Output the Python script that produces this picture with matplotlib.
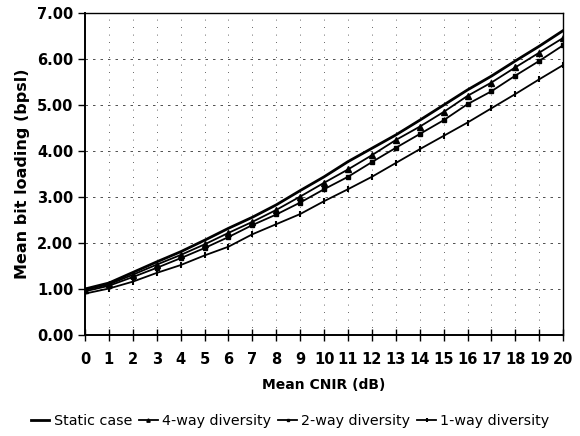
import matplotlib
matplotlib.use('Agg')
import matplotlib.pyplot as plt

cnir = list(range(0, 21))

static_case = [1.00, 1.13, 1.36, 1.59, 1.81, 2.06, 2.32, 2.56, 2.83, 3.14, 3.44,
               3.77, 4.06, 4.35, 4.67, 5.00, 5.33, 5.63, 5.96, 6.28, 6.62]
way4 = [0.98, 1.10, 1.31, 1.53, 1.74, 1.97, 2.22, 2.46, 2.72, 3.01, 3.31,
        3.60, 3.91, 4.24, 4.53, 4.85, 5.20, 5.49, 5.82, 6.14, 6.46]
way2 = [0.95, 1.07, 1.26, 1.46, 1.67, 1.89, 2.13, 2.39, 2.62, 2.88, 3.17,
        3.44, 3.76, 4.07, 4.37, 4.67, 5.02, 5.30, 5.64, 5.96, 6.30]
way1 = [0.90, 1.01, 1.16, 1.35, 1.52, 1.73, 1.92, 2.19, 2.41, 2.63, 2.91,
        3.17, 3.44, 3.74, 4.04, 4.33, 4.62, 4.93, 5.24, 5.56, 5.87]

fig = plt.figure(figsize=(5.8, 4.36), dpi=100)
ax = fig.add_axes([0.1466, 0.2317, 0.8244, 0.7383])

ax.plot(cnir, static_case, color='black', lw=2.0, label='Static case')
ax.plot(cnir, way4, color='black', lw=1.3, marker='^', ms=4, label='4-way diversity')
ax.plot(cnir, way2, color='black', lw=1.3, marker='s', ms=3.5, label='2-way diversity')
ax.plot(cnir, way1, color='black', lw=1.3, marker='|', ms=5, mew=1.5, label='1-way diversity')

ax.set_xlim(0, 20)
ax.set_ylim(0, 7)
ax.set_xticks(range(0, 21))
ax.set_yticks(range(0, 8))
ax.set_yticklabels(['%.2f' % v for v in range(0, 8)])

# dashed horizontal grid, dotted vertical grid
for v in range(1, 8):
    ax.axhline(v, color='#333333', lw=0.6, ls=(0, (3, 6)), zorder=0)
for v in range(1, 21):
    ax.axvline(v, color='#333333', lw=0.6, ls=(0, (1, 8)), zorder=0)

ax.tick_params(axis='x', direction='inout', length=8, width=1, labelsize=10.5, pad=8)
ax.tick_params(axis='y', direction='out', length=5, width=1, labelsize=10.5)
for lab in ax.get_xticklabels() + ax.get_yticklabels():
    lab.set_fontweight('bold')

for s in ['left', 'bottom']:
    ax.spines[s].set_linewidth(1.4)
for s in ['right', 'top']:
    ax.spines[s].set_linewidth(1.0)

ax.set_xlabel('Mean CNIR (dB)', fontsize=10, fontweight='bold', labelpad=8)
ax.set_ylabel('Mean bit loading (bpsl)', fontsize=11.5, fontweight='bold', labelpad=5)

fig.legend(loc='lower center', bbox_to_anchor=(0.5, -0.012), ncol=4, frameon=False,
           fontsize=10.3, handlelength=1.3, handletextpad=0.3, columnspacing=0.5,
           markerscale=0.6)

fig.savefig('out.png', dpi=100)
